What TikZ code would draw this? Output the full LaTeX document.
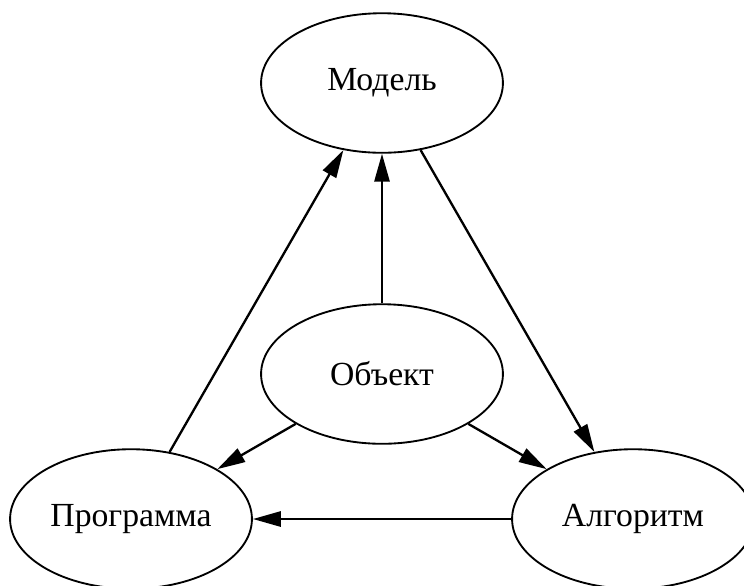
\documentclass[tikz,border=0pt]{standalone}
\usepackage{fontspec}
\setmainfont{Liberation Serif}
\usetikzlibrary{arrows.meta,shapes.geometric}

\begin{document}
\begin{tikzpicture}[>={Triangle[length=12pt,width=6.5pt]}, x=0.43pt, y=-0.43pt,
    state/.style={ellipse, draw, line width=0.8pt, inner sep=0pt,
      minimum width=104pt, minimum height=60pt, font=\fontsize{14.5}{16}\selectfont}]
    \useasboundingbox (0,0) rectangle (744,585);

    % Nodes
    \node[state] (model) at (382,83) {Модель};
    \node[state] (obj) at (382,374) {Объект};
    \node[state] (prog) at (131,519) {Программа};
    \node[state] (alg) at (633,519) {Алгоритм};

    % Connections
    \draw[->, line width=1pt] (obj) -- (model);
    \draw[->, line width=1pt] (prog) -- (model);
    \draw[->, line width=1pt] (model) -- (alg);
    \draw[->, line width=1pt] (obj) -- (prog);
    \draw[->, line width=1pt] (obj) -- (alg);
    \draw[->, line width=1pt] (alg) -- (prog);
\end{tikzpicture}
\end{document}
